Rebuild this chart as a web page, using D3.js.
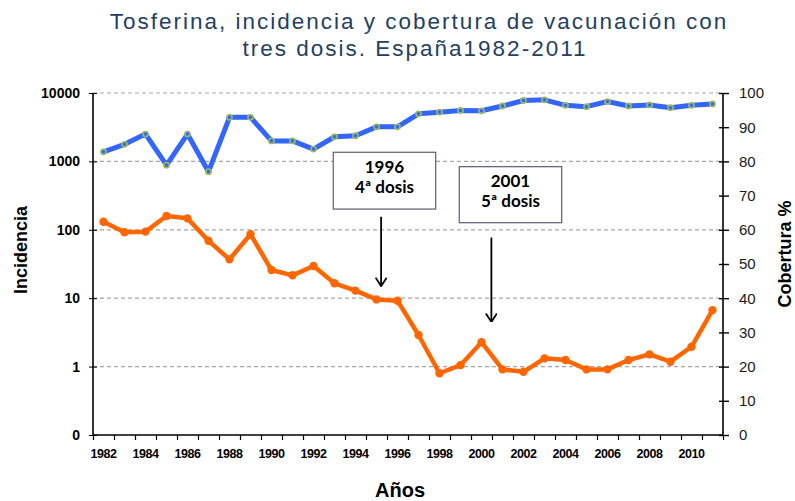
<!DOCTYPE html>
<html lang="es">
<head>
<meta charset="utf-8">
<title>Tosferina</title>
<script src="https://cdn.jsdelivr.net/npm/d3@7"></script>
<style>
body { margin: 0; background: #fff; }
svg { display: block; font-family: "Liberation Sans", Arial, sans-serif; }
</style>
</head>
<body>
<script>
var width = 795, height = 501;
var margin = {left: 93, right: 72, top: 93, bottom: 66};

// data
var years = d3.range(1982, 2012);
var incidencia = [131, 92, 94, 159, 147, 69, 37, 86, 25.8, 21.6, 29.6, 16.5, 12.9, 9.6, 9.2,
                  2.9, 0.80, 1.05, 2.27, 0.91, 0.84, 1.32, 1.25, 0.91, 0.91, 1.25, 1.51, 1.18, 1.95, 6.7];
var cobertura = [82.8, 85.0, 88.0, 78.9, 88.0, 77.0, 92.9, 92.9, 86.0, 86.0, 83.6, 87.2, 87.5, 90.1, 90.1,
                 93.9, 94.4, 94.9, 94.8, 96.2, 97.8, 98.0, 96.4, 96.0, 97.5, 96.2, 96.5, 95.7, 96.4, 96.8];
var leftTicks = [0.1, 1, 10, 100, 1000, 10000];
var leftLabels = ["0", "1", "10", "100", "1000", "10000"];
var rightTicks = d3.range(0, 101, 10);

// annotations (year, incidence units)
var notes = [
  {l1: "1996", l2: "4ª dosis", x0: 1992.94, x1: 1997.82, y0: 1360, y1: 201, ax: 1995.22, a0: 155, a1: 15},
  {l1: "2001", l2: "5ª dosis", x0: 1998.94, x1: 2003.82, y0: 837, y1: 127, ax: 2000.47, a0: 77, a1: 4.5}
];

var x0 = margin.left, x1 = width - margin.right, y0 = height - margin.bottom, y1 = margin.top;

var svg = d3.select("body").append("svg").attr("width", width).attr("height", height);

var x = d3.scaleLinear().domain([1981.5, 2011.5]).range([x0, x1]);
var yL = d3.scaleLog().domain([0.1, 10000]).range([y0, y1]);
var yR = d3.scaleLinear().domain([0, 100]).range([y0, y1]);

// title
var title = svg.append("text").attr("text-anchor", "middle").attr("fill", "#243f60")
    .style("font-size", "22.5px").style("letter-spacing", "2px");
title.append("tspan").attr("x", 419).attr("y", 29).text("Tosferina, incidencia y cobertura de vacunación con");
title.append("tspan").attr("x", 415).attr("y", 56).text("tres dosis. España1982-2011");

// grid
svg.append("g").selectAll("line").data(leftTicks.slice(1)).join("line")
    .attr("x1", x0).attr("x2", x1)
    .attr("y1", d => yL(d)).attr("y2", d => yL(d))
    .attr("stroke", "#a6a6a6").attr("stroke-width", 1.2).attr("stroke-dasharray", "4,3");

// left axis
var gl = svg.append("g").attr("transform", "translate(" + x0 + ",0)")
    .call(d3.axisLeft(yL).tickValues(leftTicks).tickFormat((d, i) => leftLabels[i]).tickSize(4).tickPadding(9));
gl.selectAll(".tick line").attr("x2", 4).attr("x1", -4);
gl.selectAll("text").style("font-size", "14px").style("font-weight", "bold").attr("fill", "#000");
gl.select(".domain").attr("stroke-width", 1.6).attr("d", "M0," + y0 + "V" + y1);

// right axis
var gr = svg.append("g").attr("transform", "translate(" + x1 + ",0)")
    .call(d3.axisRight(yR).tickValues(rightTicks).tickSize(6).tickPadding(10));
gr.selectAll(".tick line").attr("x1", -4).attr("stroke-width", 1.4);
gr.selectAll("text").style("font-size", "15px").attr("fill", "#1a1a1a");
gr.select(".domain").attr("stroke-width", 1.6).attr("d", "M0," + y0 + "V" + y1);

// bottom axis: ticks at category boundaries, labels on even years
var gb = svg.append("g").attr("transform", "translate(0," + y0 + ")")
    .call(d3.axisBottom(x).tickValues(d3.range(1981.5, 2012, 1)).tickFormat("").tickSize(5));
gb.select(".domain").attr("stroke-width", 1.6).attr("d", "M" + x0 + ",0H" + x1);
gb.selectAll(".tick line").attr("stroke-width", 1.2);
svg.append("g").selectAll("text").data(years.filter(d => d % 2 === 0)).join("text")
    .attr("x", d => x(d)).attr("y", y0 + 23).attr("text-anchor", "middle")
    .style("font-size", "12.5px").style("font-weight", "bold").style("letter-spacing", "-0.4px")
    .text(d => d);

// axis titles
svg.append("text").attr("transform", "translate(27,250) rotate(-90)").attr("text-anchor", "middle")
    .style("font-size", "18px").style("font-weight", "bold").text("Incidencia");
svg.append("text").attr("transform", "translate(791,254) rotate(-90)").attr("text-anchor", "middle")
    .style("font-size", "18px").style("font-weight", "bold").text("Cobertura %");
svg.append("text").attr("x", 400).attr("y", 497).attr("text-anchor", "middle")
    .style("font-size", "20px").style("font-weight", "bold").text("Años");

// coverage line
var lineR = d3.line().x((d, i) => x(years[i])).y(d => yR(d));
svg.append("path").datum(cobertura).attr("d", lineR)
    .attr("fill", "none").attr("stroke", "#3366ff").attr("stroke-width", 5).attr("stroke-linejoin", "round");
svg.append("g").selectAll("circle").data(cobertura).join("circle")
    .attr("cx", (d, i) => x(years[i])).attr("cy", d => yR(d)).attr("r", 2.6)
    .attr("fill", "#3366ff").attr("stroke", "#9bbb59").attr("stroke-width", 1.6);

// incidence line
var lineL = d3.line().x((d, i) => x(years[i])).y(d => yL(d));
svg.append("path").datum(incidencia).attr("d", lineL)
    .attr("fill", "none").attr("stroke", "#ff6600").attr("stroke-width", 4.5).attr("stroke-linejoin", "round");
svg.append("g").selectAll("circle").data(incidencia).join("circle")
    .attr("cx", (d, i) => x(years[i])).attr("cy", d => yL(d)).attr("r", 4.2)
    .attr("fill", "#ff6600");

// annotations
svg.append("defs").append("marker").attr("id", "arr").attr("viewBox", "0 0 10 12")
    .attr("refX", 9.5).attr("refY", 6).attr("markerWidth", 10).attr("markerHeight", 12)
    .attr("markerUnits", "userSpaceOnUse").attr("orient", "auto")
  .append("path").attr("d", "M1,0.5 L9.5,6 L1,11.5").attr("fill", "none").attr("stroke", "#000").attr("stroke-width", 1.8);

var gn = svg.append("g").selectAll("g").data(notes).join("g");
gn.append("rect")
    .attr("x", d => x(d.x0)).attr("y", d => yL(d.y0))
    .attr("width", d => x(d.x1) - x(d.x0)).attr("height", d => yL(d.y1) - yL(d.y0))
    .attr("fill", "#fff").attr("stroke", "#5f5a78").attr("stroke-width", 1.2);
gn.append("text").attr("x", d => (x(d.x0) + x(d.x1)) / 2).attr("y", d => yL(d.y0) + 20.5)
    .attr("text-anchor", "middle").style("font-family", "Lato, 'Open Sans', sans-serif")
    .style("font-size", "17px").style("font-weight", "bold").text(d => d.l1);
gn.append("text").attr("x", d => (x(d.x0) + x(d.x1)) / 2).attr("y", d => yL(d.y0) + 40.5)
    .attr("text-anchor", "middle").style("font-family", "Lato, 'Open Sans', sans-serif")
    .style("font-size", "17px").style("font-weight", "bold").text(d => d.l2);
gn.append("line")
    .attr("x1", d => x(d.ax)).attr("x2", d => x(d.ax))
    .attr("y1", d => yL(d.a0)).attr("y2", d => yL(d.a1))
    .attr("stroke", "#000").attr("stroke-width", 1.8).attr("marker-end", "url(#arr)");
</script>
</body>
</html>
